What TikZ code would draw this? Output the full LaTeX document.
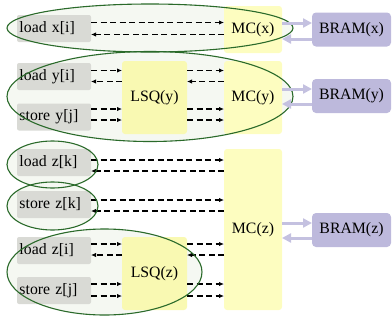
\documentclass[tikz,border=0pt]{standalone}
\usepackage{fontspec}
\setmainfont{Liberation Serif}
\usetikzlibrary{arrows.meta}
\definecolor{opgray}{HTML}{D9DAD5}
\definecolor{lsqyel}{HTML}{F9F9B2}
\definecolor{mcyel}{HTML}{FDFDC0}
\definecolor{bramlav}{HTML}{BDB9DC}
\definecolor{portlav}{HTML}{C4C1E0}
\definecolor{grpgreen}{HTML}{2A6A2A}
\definecolor{grpfill}{HTML}{F5F8F2}
\begin{document}
\begin{tikzpicture}[x=1pt,y=-1pt,
  font=\fontsize{15.8}{18}\selectfont,
  every node/.style={inner sep=0pt, outer sep=0pt, text=black},
  op/.style={fill=opgray, rounded corners=2pt, text width=69pt, align=left,
    inner xsep=2.5pt, minimum height=27pt},
  lsq/.style={fill=lsqyel, rounded corners=3pt, minimum width=65pt, minimum height=73pt},
  mc/.style={fill=mcyel, rounded corners=3pt, minimum width=58pt},
  bram/.style={fill=bramlav, rounded corners=4pt, minimum width=79pt, minimum height=34pt},
  req/.style={dashed, dash pattern=on 6pt off 3.5pt, line width=1.2pt, -{Latex[length=5pt,width=4.5pt]}},
  port/.style={portlav, line width=3pt, -{Triangle[length=9pt,width=9pt]}},
  grp/.style={draw=grpgreen, line width=1.1pt},
  grpbg/.style={fill=grpfill}]
\useasboundingbox (0,0) rectangle (392,322);

% group backgrounds
\fill[grpbg] (150,28) ellipse [x radius=143, y radius=24];
\fill[grpbg] (150,96.5) ellipse [x radius=143, y radius=45];
\fill[grpbg] (52.5,164.5) ellipse [x radius=45.5, y radius=23.5];
\fill[grpbg] (52.5,206) ellipse [x radius=45.5, y radius=24];
\fill[grpbg] (104.5,272) ellipse [x radius=97.5, y radius=43];

% memory operations
\node[op] (lxi) at (54,28.5) {load x[i]};
\node[op] (lyi) at (54,76.5) {load y[i]};
\node[op] (syj) at (54,117) {store y[j]};
\node[op] (lzk) at (54,162.5) {load z[k]};
\node[op] (szk) at (54,204.5) {store z[k]};
\node[op] (lzi) at (54,250.5) {load z[i]};
\node[op] (szj) at (54,290.5) {store z[j]};

% load-store queues
\node[lsq] (lsqy) at (154.5,97.5) {LSQ(y)};
\node[lsq] (lsqz) at (154.5,273.5) {LSQ(z)};

% memory controllers
\node[mc, minimum height=47pt] (mcx) at (253,29.5) {MC(x)};
\node[mc, minimum height=73pt] (mcy) at (253,97.5) {MC(y)};
\node[mc, minimum height=161pt] (mcz) at (253,229.5) {MC(z)};

% block RAMs
\node[bram] (bx) at (351.5,29.5) {BRAM(x)};
\node[bram] (by) at (351.5,96) {BRAM(y)};
\node[bram] (bz) at (351.5,230) {BRAM(z)};

% request / response ports
\path (lxi.east) ++(0,-6) coordinate (lxi1) ++(0,12) coordinate (lxi2);
\draw[req] (lxi1) -- (lxi1 -| mcx.west);
\draw[req] (lxi2 -| mcx.west) -- (lxi2);

\path (lyi.east) ++(0,-6) coordinate (lyi1) ++(0,11) coordinate (lyi2);
\draw[req] (lyi1) -- (lyi1 -| lsqy.west);
\draw[req] (lyi2 -| lsqy.west) -- (lyi2);
\draw[req] (lyi1 -| lsqy.east) -- (lyi1 -| mcy.west);
\draw[req] (lyi2 -| mcy.west) -- (lyi2 -| lsqy.east);

\path (syj.east) ++(0,-8) coordinate (syj1) ++(0,11) coordinate (syj2);
\draw[req] (syj1) -- (syj1 -| lsqy.west);
\draw[req] (syj2) -- (syj2 -| lsqy.west);
\draw[req] (syj1 -| lsqy.east) -- (syj1 -| mcy.west);
\draw[req] (syj2 -| lsqy.east) -- (syj2 -| mcy.west);

\path (lzk.east) ++(0,-2.5) coordinate (lzk1) ++(0,11) coordinate (lzk2);
\draw[req] (lzk1) -- (lzk1 -| mcz.west);
\draw[req] (lzk2 -| mcz.west) -- (lzk2);

\path (szk.east) ++(0,-4.5) coordinate (szk1) ++(0,11) coordinate (szk2);
\draw[req] (szk1) -- (szk1 -| mcz.west);
\draw[req] (szk2 -| mcz.west) -- (szk2);

\path (lzi.east) ++(0,-6.5) coordinate (lzi1) ++(0,11) coordinate (lzi2);
\draw[req] (lzi1) -- (lzi1 -| lsqz.west);
\draw[req] (lzi2 -| lsqz.west) -- (lzi2);
\draw[req] (lzi1 -| lsqz.east) -- (lzi1 -| mcz.west);
\draw[req] (lzi2 -| mcz.west) -- (lzi2 -| lsqz.east);

\path (szj.east) ++(0,-6.5) coordinate (szj1) ++(0,12) coordinate (szj2);
\draw[req] (szj1) -- (szj1 -| lsqz.west);
\draw[req] (szj2) -- (szj2 -| lsqz.west);
\draw[req] (szj1 -| lsqz.east) -- (szj1 -| mcz.west);
\draw[req] (szj2 -| lsqz.east) -- (szj2 -| mcz.west);

% group outlines
\draw[grp] (150,28) ellipse [x radius=143, y radius=24];
\draw[grp] (150,96.5) ellipse [x radius=143, y radius=45];
\draw[grp] (52.5,164.5) ellipse [x radius=45.5, y radius=23.5];
\draw[grp] (52.5,206) ellipse [x radius=45.5, y radius=24];
\draw[grp] (104.5,272) ellipse [x radius=97.5, y radius=43];

% controller to BRAM links
\path (mcx.east) ++(0,-6.5) coordinate (px1) ++(0,16) coordinate (px2);
\draw[port] (px1) -- (px1 -| bx.west);
\draw[port] (px2 -| bx.west) -- (px2);
\path (mcy.east) ++(0,-8.5) coordinate (py1) ++(0,15) coordinate (py2);
\draw[port] (py1) -- (py1 -| by.west);
\draw[port] (py2 -| by.west) -- (py2);
\path (mcz.east) ++(0,-6.5) coordinate (pz1) ++(0,15) coordinate (pz2);
\draw[port] (pz1) -- (pz1 -| bz.west);
\draw[port] (pz2 -| bz.west) -- (pz2);
\end{tikzpicture}
\end{document}
